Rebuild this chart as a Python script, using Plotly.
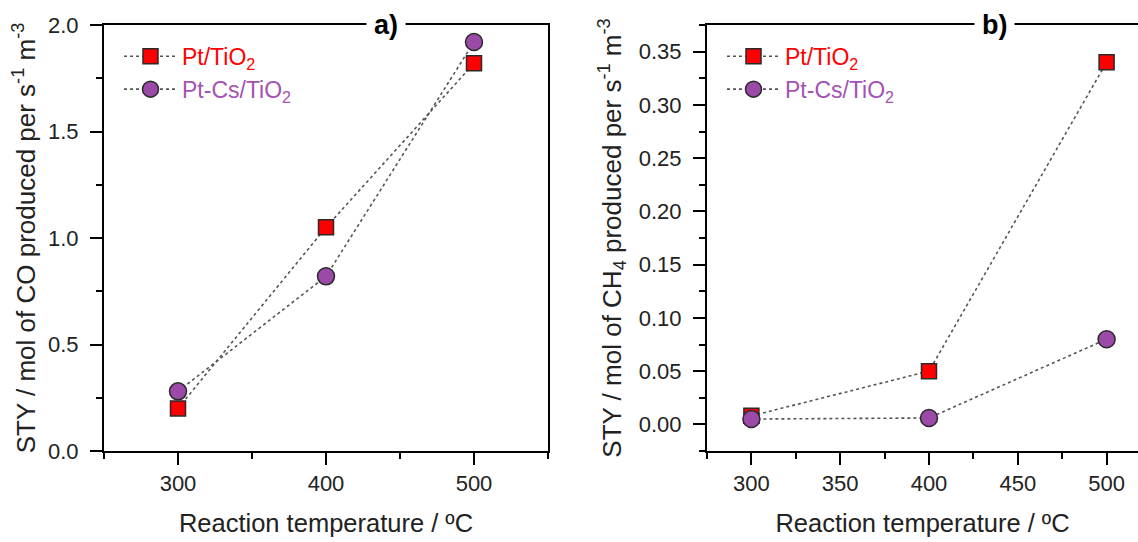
import plotly.graph_objects as go

# ---- data ----
temps = [300, 400, 500]
co_pt = [0.20, 1.05, 1.82]
co_ptcs = [0.28, 0.82, 1.92]
ch4_pt = [0.008, 0.05, 0.34]
ch4_ptcs = [0.005, 0.006, 0.08]

series_names = ["Pt/TiO<sub>2</sub>", "Pt-Cs/TiO<sub>2</sub>"]
red = "#FF0000"
purple = "#9B4BA7"
purple_txt = "#A452B3"

x1_major = [300, 400, 500]
x1_minor = [250, 350, 450, 550]
y1_major = [0, 0.5, 1.0, 1.5, 2.0]
y1_minor = [0.25, 0.75, 1.25, 1.75]
x2_major = [300, 350, 400, 450, 500]
x2_minor = [275, 325, 375, 425, 475, 525]
y2_major = [0, 0.05, 0.1, 0.15, 0.2, 0.25, 0.3, 0.35]
y2_minor = [-0.025, 0.025, 0.075, 0.125, 0.175, 0.225, 0.275, 0.325, 0.375]

FONT = "Arial, Liberation Sans, sans-serif"
line_style = dict(color="#555555", width=1.6, dash="dot")
sq = dict(symbol="square", size=15, color=red, line=dict(color="#2a2a2a", width=1.5))
ci = dict(symbol="circle", size=17, color=purple, line=dict(color="#2a2a2a", width=1.5))

fig = go.Figure()
# left panel
fig.add_trace(go.Scatter(x=temps, y=co_pt, mode="lines+markers", line=line_style, marker=sq,
                         name=f"<span style='color:{red}'>{series_names[0]}</span>",
                         xaxis="x", yaxis="y", legend="legend"))
fig.add_trace(go.Scatter(x=temps, y=co_ptcs, mode="lines+markers", line=line_style, marker=ci,
                         name=f"<span style='color:{purple_txt}'>{series_names[1]}</span>",
                         xaxis="x", yaxis="y", legend="legend"))
# right panel
fig.add_trace(go.Scatter(x=temps, y=ch4_pt, mode="lines+markers", line=line_style, marker=sq,
                         name=f"<span style='color:{red}'>{series_names[0]}</span>",
                         xaxis="x2", yaxis="y2", legend="legend2"))
fig.add_trace(go.Scatter(x=temps, y=ch4_ptcs, mode="lines+markers", line=line_style, marker=ci,
                         name=f"<span style='color:{purple_txt}'>{series_names[1]}</span>",
                         xaxis="x2", yaxis="y2", legend="legend2"))

def axis_common(minor_vals):
    return dict(showline=True, linecolor="black", linewidth=2, ticks="outside",
                ticklen=12, tickwidth=2, tickcolor="black", showgrid=False, zeroline=False,
                tickmode="array",
                minor=dict(tickmode="array", tickvals=minor_vals, ticks="outside", ticklen=6,
                           tickwidth=2, tickcolor="black", showgrid=False),
                tickfont=dict(family=FONT, size=22, color="#222222"))

W, H = 1138, 542
ml, mt, mb = 104, 25, 91
pw = W - ml
def px(x):
    return (x - ml) / pw

fig.update_layout(
    width=W, height=H,
    margin=dict(l=ml, r=0, t=mt, b=mb),
    paper_bgcolor="white", plot_bgcolor="white",
    font=dict(family=FONT, color="#222222"),
    xaxis=dict(domain=[0, px(548)], range=[250, 550], tickvals=x1_major,
               mirror=True, anchor="y", ticklabelstandoff=0,
               title=dict(text="Reaction temperature / ºC", font=dict(size=25.5), standoff=19),
               **axis_common(x1_minor)),
    yaxis=dict(domain=[0, 1], range=[0, 2.0], tickvals=y1_major, tickformat=".1f",
               mirror=True, anchor="x", ticklabelstandoff=7,
               title=dict(text="STY / mol of CO produced per s<sup>-1</sup> m<sup>-3</sup>",
                          font=dict(size=26), standoff=5),
               **axis_common(y1_minor)),
    xaxis2=dict(domain=[px(707), 1], range=[275, 275 + (1138 - 707) / 1.776],
                tickvals=x2_major, mirror=True, anchor="y2", ticklabelstandoff=0,
                title=dict(text="Reaction temperature / ºC", font=dict(size=25.5), standoff=19),
                **axis_common(x2_minor)),
    yaxis2=dict(domain=[0, 1], range=[-0.025, 0.375], tickvals=y2_major, tickformat=".2f",
                mirror=False, anchor="x2", ticklabelstandoff=7,
                title=dict(text="STY / mol of CH<sub>4</sub> produced per s<sup>-1</sup> m<sup>-3</sup>",
                           font=dict(size=26), standoff=10),
                **axis_common(y2_minor)),
    legend=dict(x=px(119), y=0.977, xanchor="left", yanchor="top", bgcolor="rgba(0,0,0,0)",
                font=dict(family=FONT, size=23), itemwidth=53, tracegroupgap=0),
    legend2=dict(x=px(722), y=0.977, xanchor="left", yanchor="top", bgcolor="rgba(0,0,0,0)",
                 font=dict(family=FONT, size=23), itemwidth=53, tracegroupgap=0),
    showlegend=True,
)

fig.add_annotation(x=440.5, y=1, xref="x", yref="y domain", text="<b>a)</b>", showarrow=False,
                   font=dict(family=FONT, size=27, color="black"), bgcolor="white",
                   borderpad=7, xanchor="center", yanchor="middle")
fig.add_annotation(x=436.6, y=1, xref="x2", yref="y2 domain", text="<b>b)</b>", showarrow=False,
                   font=dict(family=FONT, size=27, color="black"), bgcolor="white",
                   borderpad=7, xanchor="center", yanchor="middle")

fig.write_html("out.html")
